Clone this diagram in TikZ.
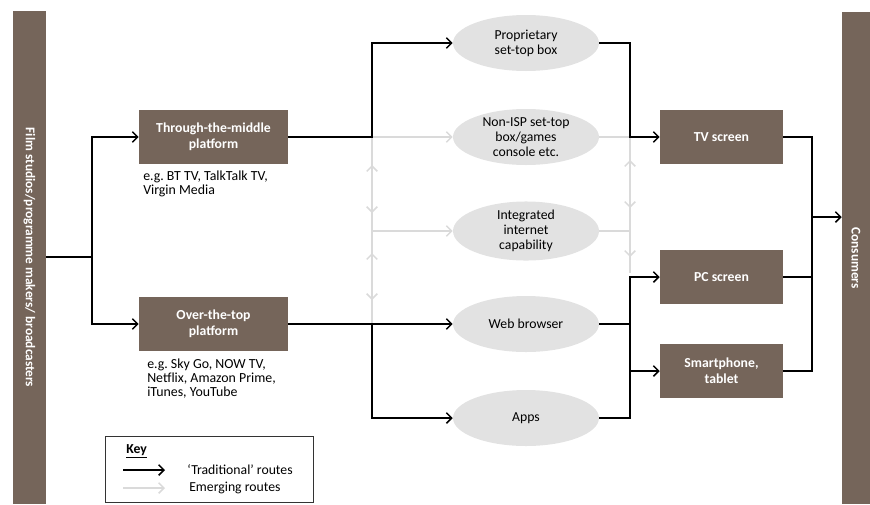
\documentclass[tikz,border=0pt]{standalone}
\usepackage{fontspec}
\setmainfont{Carlito}
\usetikzlibrary{arrows.meta,shapes.geometric}
\definecolor{brn}{HTML}{75655A}
\definecolor{ellg}{HTML}{E2E2E2}
\definecolor{emg}{HTML}{DADADA}
\tikzset{
  bar/.style={draw=none,fill=brn,text=white,font=\fontsize{10}{11}\selectfont\bfseries,rotate=-90,inner sep=0pt},
  bbox/.style={draw=none,fill=brn,text=white,font=\fontsize{10.3}{12}\selectfont\bfseries,align=center,minimum width=111.75pt,minimum height=40.5pt,inner sep=0pt},
  dbox/.style={bbox,minimum width=92.25pt},
  ell/.style={ellipse,fill=ellg,draw=none,font=\fontsize{10.3}{11.25}\selectfont,align=center,minimum width=109.5pt,minimum height=42pt,inner sep=0pt},
  lbl/.style={font=\fontsize{10.4}{10.5}\selectfont\frenchspacing,align=left,inner sep=0pt,anchor=north west},
  trad/.style={draw=black,line width=1.1pt,-{Straight Barb[length=4pt,width=8pt,line width=1.1pt]}},
  plain/.style={draw=black,line width=1.1pt},
  emerg/.style={draw=emg,line width=1.1pt,-{Straight Barb[length=4pt,width=8pt,line width=1.1pt]}},
  eplain/.style={draw=emg,line width=1.1pt},
}
\begin{document}
\frenchspacing
\begin{tikzpicture}[x=0.75pt,y=-0.75pt]
\useasboundingbox (0,0) rectangle (870,504);
% side bars
\node[bar,minimum width=369.75pt,minimum height=24.75pt] (src) at (29.5,257.5) {Film studios/programme makers/ broadcasters};
\node[bar,minimum width=369pt,minimum height=21pt] (cons) at (856,258) {Consumers};
% platforms
\node[bbox] (ttm) at (213.5,137) {Through-the-middle\\platform};
\node[bbox] (ott) at (213.5,324) {Over-the-top\\platform};
\node[lbl] (ttml) at (143,171) {e.g. BT TV, TalkTalk TV,\\Virgin Media};
\node[lbl] (ottl) at (147,359) {e.g. Sky Go, NOW TV,\\Netflix, Amazon Prime,\\iTunes, YouTube};
% ellipses
\node[ell] (prop) at (526,43) {Proprietary\\set-top box};
\node[ell] (nisp) at (526,137) {Non-ISP set-top\\box/games\\console etc.};
\node[ell] (integ) at (526,231) {Integrated\\internet\\capability};
\node[ell] (web) at (526,324) {Web browser};
\node[ell] (apps) at (526,418) {Apps};
% devices
\node[dbox] (tv) at (721.5,137) {TV screen};
\node[dbox] (pc) at (721.5,277) {PC screen};
\node[dbox] (smart) at (721.5,371) {Smartphone,\\tablet};
% junction coordinates
\coordinate (jL) at (92,257);
\coordinate (jA) at (372,137);
\coordinate (jC) at (372,231);
\coordinate (jB) at (372,324);
\coordinate (rA) at (630,137);
\coordinate (rC) at (630,231);
\coordinate (rE) at (630,273);
\coordinate (rB) at (630,324);
\coordinate (rD) at (812,217);
% emerging routes (grey)
\draw[emerg] (jA) -- (nisp.west);
\draw[emerg] (jC) -- (integ.west);
\draw[eplain] (jA) -- (jB);
\draw[emerg] (372,190) -- (372,165);
\draw[emerg] (372,190) -- (372,213);
\draw[emerg] (372,277) -- (372,253);
\draw[emerg] (372,277) -- (372,300);
\draw[eplain] (nisp.east) -- (rA);
\draw[eplain] (integ.east) -- (rC);
\draw[eplain] (rA) -- (rE);
\draw[emerg] (630,184) -- (630,160);
\draw[emerg] (630,184) -- (630,208);
\draw[emerg] (630,240) -- (630,257);
% traditional routes (black)
\draw[trad] (src.north |- jL) -- (jL) |- (ttm.west);
\draw[trad] (jL) |- (ott.west);
\draw[trad] (ttm.east) -- (jA) |- (prop.west);
\draw[trad] (ott.east) -- (web.west);
\draw[trad] (jB) |- (apps.west);
\draw[trad] (prop.east) -| (rA) -- (tv.west);
\draw[plain] (web.east) -- (rB);
\draw[trad] (rB) |- (pc.west);
\draw[trad] (rB) |- (smart.west);
\draw[plain] (apps.east) -| (rB);
\draw[plain] (tv.east) -| (rD);
\draw[plain] (smart.east) -| (rD);
\draw[plain] (pc.east) -- (pc.east -| rD);
\draw[trad] (rD) -- (cons.south |- rD);
% key
\node[draw=black!80,line width=0.6pt,minimum width=156pt,minimum height=49.5pt,inner sep=0pt] (key) at (209,469) {};
\node[font=\fontsize{10.3}{10}\selectfont\bfseries,anchor=west,inner sep=0pt] (keyt) at (126,451) {\underline{Key}};
\coordinate (ka1) at (123,470);
\coordinate (ka2) at (165,470);
\coordinate (ke1) at (123,488);
\coordinate (ke2) at (165,488);
\draw[trad] (ka1) -- (ka2);
\draw[emerg] (ke1) -- (ke2);
\node[font=\fontsize{10.3}{10}\selectfont,anchor=west,inner sep=0pt] (kt1) at (187,470) {‘Traditional’ routes};
\node[font=\fontsize{10.3}{10}\selectfont,anchor=west,inner sep=0pt] (kt2) at (189,488) {Emerging routes};
\end{tikzpicture}
\end{document}
